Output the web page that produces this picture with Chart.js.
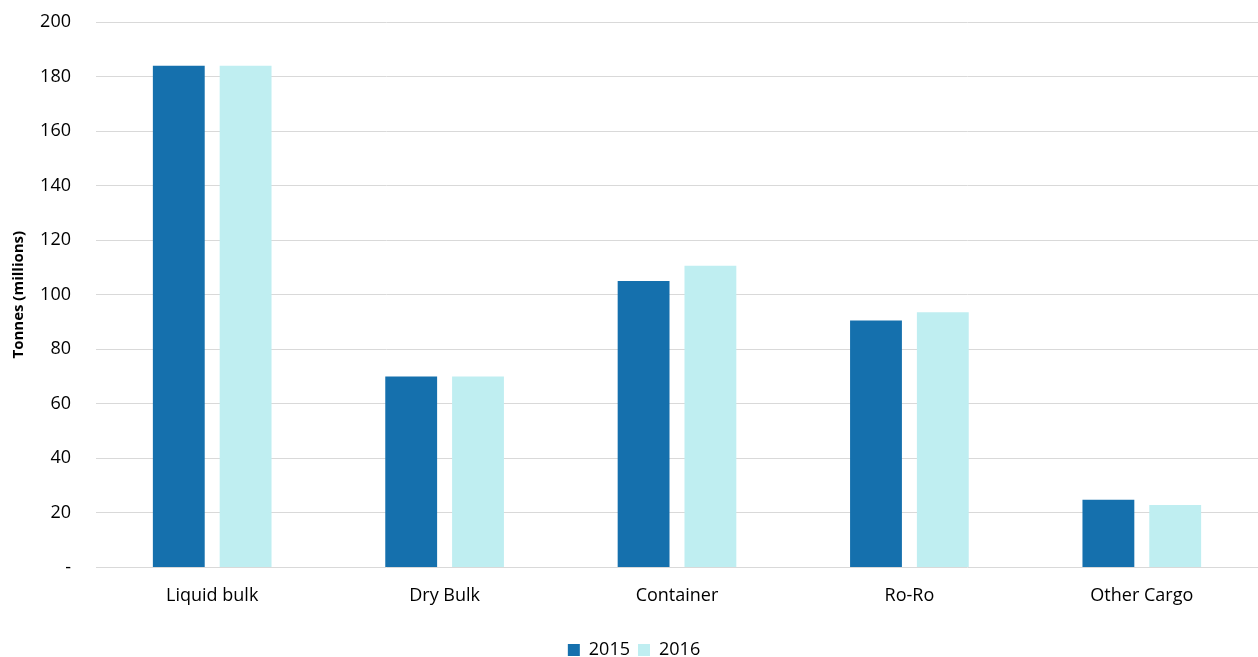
<!DOCTYPE html>
<html>
<head>
<meta charset="utf-8">
<script src="https://cdn.jsdelivr.net/npm/chart.js@4"></script>
<style>
    html, body { margin: 0; padding: 0; background: #fff; }
    #wrap { width: 1258px; height: 657px; }
</style>
</head>
<body>
<div id="wrap"><canvas id="cargoChart" width="1258" height="657"></canvas></div>
<script>
const categories = ["Liquid bulk", "Dry Bulk", "Container", "Ro-Ro", "Other Cargo"];
const values2015 = [184, 70, 105, 90.5, 24.8];
const values2016 = [184, 70, 110.6, 93.6, 22.9];
const yTicks = [0, 20, 40, 60, 80, 100, 120, 140, 160, 180, 200];

const fontFamily = "'Open Sans', 'Liberation Sans', sans-serif";

// nudge the legend a little lower, closer to the bottom edge
const legendShift = {
    id: "legendShift",
    afterLayout(chart) {
        chart.legend.top += 12;
        chart.legend.bottom += 12;
    }
};

new Chart(document.getElementById("cargoChart"), {
    type: "bar",
    data: {
        labels: categories,
        datasets: [
            {
                label: "2015",
                data: values2015,
                backgroundColor: "#1570ad",
                categoryPercentage: 0.575,
                barPercentage: 0.776
            },
            {
                label: "2016",
                data: values2016,
                backgroundColor: "#bfeef1",
                categoryPercentage: 0.575,
                barPercentage: 0.776
            }
        ]
    },
    options: {
        responsive: false,
        animation: false,
        layout: { padding: { top: 22, left: 10, right: 0, bottom: 0 } },
        plugins: {
            tooltip: { enabled: false },
            legend: {
                position: "bottom",
                labels: {
                    boxWidth: 12,
                    boxHeight: 12,
                    padding: 8,
                    color: "#000",
                    font: { family: fontFamily, size: 18 }
                }
            }
        },
        scales: {
            x: {
                grid: { display: false },
                border: { display: false },
                afterFit: scale => { scale.height += 4; },
                ticks: {
                    color: "#000",
                    padding: 10,
                    font: { family: fontFamily, size: 18 }
                }
            },
            y: {
                min: 0,
                max: 200,
                afterBuildTicks: scale => {
                    scale.ticks = yTicks.map(v => ({ value: v }));
                },
                afterFit: scale => { scale.width = 86; },
                grid: {
                    color: "#d9d9d9",
                    lineWidth: 1,
                    drawTicks: true,
                    tickLength: 24,
                    tickColor: "rgba(0,0,0,0)"
                },
                border: { display: false },
                ticks: {
                    color: "#000",
                    padding: 1,
                    font: { family: fontFamily, size: 18 },
                    callback: v => v === 0 ? "-" : v
                },
                title: {
                    display: true,
                    text: "Tonnes (millions)",
                    color: "#000",
                    font: { family: fontFamily, size: 15, weight: "bold" },
                    padding: 0
                }
            }
        }
    },
    plugins: [legendShift]
});
</script>
</body>
</html>
